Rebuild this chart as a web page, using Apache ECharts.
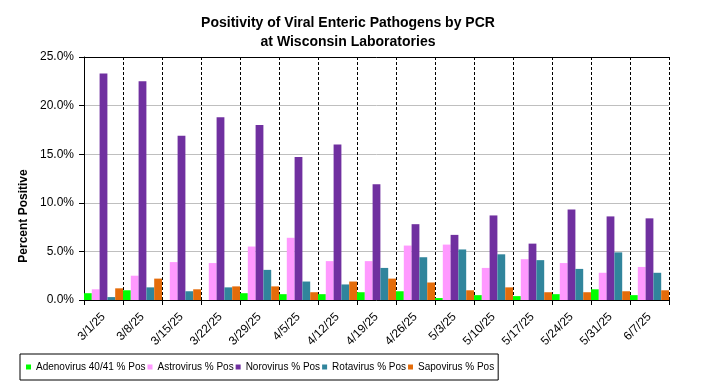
<!DOCTYPE html>
<html>
<head>
<meta charset="utf-8">
<script src="https://cdn.jsdelivr.net/npm/echarts@6/dist/echarts.min.js"></script>
<style>
html,body{margin:0;padding:0;background:#fff;}
#chart{width:704px;height:391px;}
</style>
</head>
<body>
<div id="chart"></div>
<script>
var categories = ['3/1/25','3/8/25','3/15/25','3/22/25','3/29/25','4/5/25','4/12/25','4/19/25','4/26/25','5/3/25','5/10/25','5/17/25','5/24/25','5/31/25','6/7/25'];
var adenovirus = [0.7, 1.0, 0.0, 0.0, 0.7, 0.6, 0.6, 0.8, 0.9, 0.2, 0.5, 0.4, 0.6, 1.1, 0.5];
var astrovirus = [1.1, 2.5, 3.9, 3.8, 5.5, 6.4, 4.0, 4.0, 5.6, 5.7, 3.3, 4.2, 3.8, 2.8, 3.4];
var norovirus  = [23.3, 22.5, 16.9, 18.8, 18.0, 14.7, 16.0, 11.9, 7.8, 6.7, 8.7, 5.8, 9.3, 8.6, 8.4];
var rotavirus  = [0.3, 1.3, 0.9, 1.3, 3.1, 1.9, 1.6, 3.3, 4.4, 5.2, 4.7, 4.1, 3.2, 4.9, 2.8];
var sapovirus  = [1.2, 2.2, 1.1, 1.4, 1.4, 0.8, 1.9, 2.2, 1.8, 1.0, 1.3, 0.8, 0.8, 0.9, 1.0];
var seriesNames = ['Adenovirus 40/41 % Pos','Astrovirus % Pos','Norovirus % Pos','Rotavirus % Pos','Sapovirus % Pos'];
var yTicks = [0, 5, 10, 15, 20, 25];

var colors = ['#00FF00','#FF99FF','#7030A0','#31859C','#E46C0A'];
var seriesData = [adenovirus, astrovirus, norovirus, rotavirus, sapovirus];

var chart = echarts.init(document.getElementById('chart'), null, {renderer:'canvas'});
var FONT = '"Liberation Sans", Arial, sans-serif';

var series = seriesNames.map(function(n, i){
  return {
    name: n,
    type: 'bar',
    data: seriesData[i],
    itemStyle: {color: colors[i]},
    barGap: '0%',
    barCategoryGap: '0%',
    animation: false
  };
});

chart.setOption({
  animation: false,
  backgroundColor: '#fff',
  color: colors,
  textStyle: {fontFamily: FONT},
  title: {
    text: 'Positivity of Viral Enteric Pathogens by PCR\nat Wisconsin Laboratories',
    left: 343,
    textAlign: 'center',
    top: 9,
    textStyle: {fontFamily: FONT, fontSize: 14, fontWeight: 'bold', color: '#000', lineHeight: 19}
  },
  grid: {left: 84, right: 35, top: 57, bottom: 91, containLabel: false},
  legend: {
    left: 20,
    top: 354,
    orient: 'horizontal',
    itemWidth: 5,
    itemHeight: 5,
    itemGap: 2,
    padding: [8, 4, 8, 6],
    borderColor: '#000',
    borderWidth: 1,
    icon: 'rect',
    textStyle: {fontFamily: FONT, fontSize: 10, color: '#000'},
    data: seriesNames
  },
  xAxis: [{
    type: 'category',
    data: categories,
    position: 'bottom',
    axisLine: {show: true, lineStyle: {color: '#000', width: 1}},
    axisTick: {show: true, length: 5, lineStyle: {color: '#000'}},
    axisLabel: {rotate: 45, margin: 15, fontSize: 12, color: '#000', fontFamily: FONT, interval: 0},
    splitLine: {show: true, interval: 0, lineStyle: {color: '#000', type: [3, 2], width: 1}}
  }, {
    type: 'category',
    data: categories,
    position: 'top',
    axisLine: {show: true, lineStyle: {color: '#000', width: 1}},
    axisTick: {show: false},
    axisLabel: {show: false},
    splitLine: {show: false}
  }],
  yAxis: {
    type: 'value',
    min: yTicks[0],
    max: yTicks[yTicks.length - 1],
    interval: yTicks[1] - yTicks[0],
    axisLine: {show: true, lineStyle: {color: '#000', width: 1}},
    axisTick: {show: true, length: 5, lineStyle: {color: '#000'}},
    axisLabel: {
      margin: 10, fontSize: 12, color: '#000', fontFamily: FONT,
      formatter: function(v){ return v.toFixed(1) + '%'; }
    },
    splitLine: {show: true, lineStyle: {color: '#BFBFBF', width: 1}}
  },
  graphic: [{
    type: 'text',
    x: 24,
    y: 216,
    rotation: Math.PI / 2,
    style: {
      text: 'Percent Positive',
      fontFamily: FONT,
      fontSize: 12,
      fontWeight: 'bold',
      fill: '#000',
      textAlign: 'center',
      textVerticalAlign: 'middle'
    }
  }],
  series: series
});
</script>
</body>
</html>
